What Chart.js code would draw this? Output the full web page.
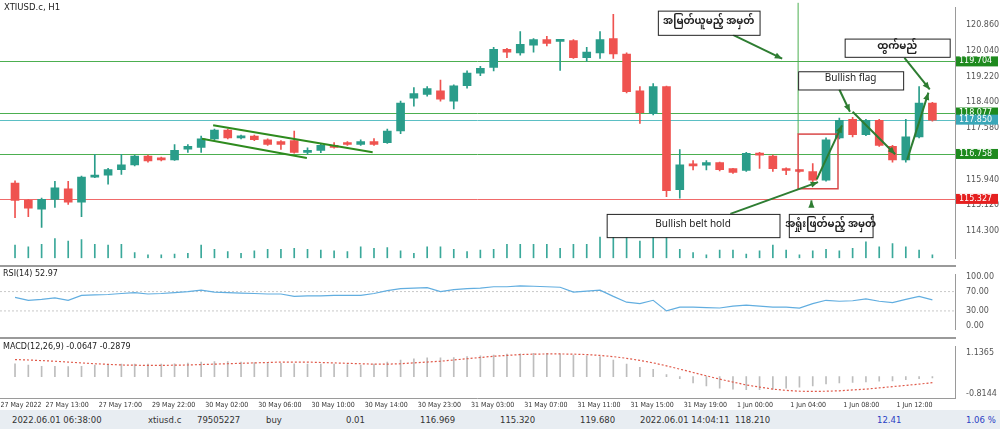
<!DOCTYPE html>
<html><head><meta charset="utf-8">
<script src="https://cdn.jsdelivr.net/npm/chart.js@4"></script>
<style>
body{margin:0;width:1000px;height:429px;overflow:hidden;background:#fff;font-family:"DejaVu Sans",sans-serif}
canvas{position:absolute;left:0}
#bar{position:absolute;left:0;top:410px;width:1000px;height:19px;background:#e8edf2;font-size:8.5px;color:#333}
#bar span{position:absolute;top:5px}
.sep{position:absolute;left:0;width:956px;height:2px;background:#9a9a9a}
</style></head><body>
<canvas id="main" style="top:0"></canvas>
<canvas id="rsi" style="top:267px"></canvas>
<canvas id="macd" style="top:339px"></canvas>
<div class="sep" style="top:265px"></div>
<div class="sep" style="top:337px"></div>
<div id="bar"></div>
<script>
//ローソク足データ（H1）
let opens  = [115.83,115.28,115.00,115.31,115.65,115.22,116.02,116.08,116.26,116.41,116.69,116.63,116.57,116.91,116.97,117.24,117.52,117.27,117.33,117.21,117.15,117.18,116.81,116.87,117.03,117.12,117.06,117.15,117.12,117.49,118.53,118.65,118.77,118.44,118.93,119.33,119.51,120.09,119.97,120.22,120.40,120.34,120.37,119.82,119.97,120.43,119.94,118.77,118.04,118.90,115.62,116.41,116.40,116.48,116.29,116.23,116.78,116.69,116.29,116.23,116.20,115.92,117.27,117.86,117.37,117.83,117.00,116.57,117.30,118.38];
let highs  = [115.90,115.31,115.35,115.89,115.89,116.05,116.75,116.30,116.75,116.72,116.72,116.66,117.06,117.06,117.33,117.55,117.55,117.36,117.36,117.24,117.18,117.49,116.95,117.10,117.12,117.15,117.21,117.25,117.55,118.44,118.87,118.90,119.11,118.96,119.40,119.55,120.15,120.12,120.65,120.43,120.50,120.40,120.40,120.15,120.65,121.20,119.98,118.90,119.00,118.92,116.90,116.55,116.55,116.50,116.30,116.81,116.81,116.72,116.32,116.25,116.45,117.27,117.90,117.92,117.86,117.86,117.03,117.86,118.90,118.40];
let lows   = [114.73,114.76,114.42,115.06,115.15,114.76,116.00,115.80,116.11,116.38,116.50,116.54,116.55,116.81,116.81,117.21,117.24,117.24,117.18,117.03,116.90,116.78,116.75,116.80,116.94,117.03,117.03,117.03,117.09,117.40,118.28,118.60,118.44,118.19,118.85,119.25,119.40,119.82,119.90,120.00,120.20,119.42,119.80,119.70,119.80,119.80,118.70,117.73,118.00,115.40,115.35,116.25,116.25,116.22,116.14,116.20,116.30,116.20,116.10,116.18,115.85,115.89,117.24,117.30,117.34,117.00,116.50,116.50,117.27,117.80];
let closes = [115.28,115.03,115.31,115.68,115.22,116.02,116.08,116.26,116.41,116.69,116.54,116.57,116.87,117.00,117.24,117.52,117.27,117.33,117.21,117.06,117.06,116.81,116.87,117.03,116.97,117.06,117.15,117.06,117.49,118.38,118.68,118.84,118.50,118.93,119.33,119.48,120.09,120.00,120.25,120.40,120.28,120.37,119.82,120.00,120.40,119.94,118.74,118.07,118.90,115.59,116.41,116.38,116.48,116.26,116.17,116.78,116.72,116.29,116.23,116.20,115.92,117.21,117.83,117.37,117.83,117.03,116.57,117.30,118.38,117.83];
let volumes = [40,35,43,60,53,57,43,40,43,17,10,10,13,15,40,27,20,15,23,27,27,30,27,25,23,20,35,30,33,23,15,35,35,27,20,25,27,43,43,43,43,30,43,43,65,65,65,53,65,65,27,17,10,25,25,13,23,40,25,10,23,27,23,30,50,35,45,35,25,10];
let rsiValues = [58,52,54,57,52,62,63,64,66,68,65,66,68,70,73,69,68,67,66,65,65,60,61,61,62,62,62,66,72,76,77,78,70,74,76,77,80,80,82,81,80,79,69,71,73,60,48,45,52,30,38,38,37,36,40,42,40,38,38,36,45,52,50,51,55,50,47,54,60,53];
let macdValues = [0.62,0.55,0.5,0.5,0.48,0.5,0.55,0.58,0.6,0.6,0.6,0.6,0.62,0.65,0.7,0.72,0.72,0.7,0.68,0.66,0.64,0.62,0.6,0.6,0.6,0.58,0.56,0.6,0.7,0.8,0.86,0.9,0.9,0.92,0.96,1.0,1.04,1.08,1.1,1.12,1.12,1.1,1.04,1.0,0.96,0.8,0.6,0.45,0.35,0.1,-0.1,-0.3,-0.45,-0.55,-0.6,-0.62,-0.62,-0.6,-0.55,-0.5,-0.45,-0.35,-0.3,-0.28,-0.25,-0.22,-0.2,-0.15,-0.1,-0.0647];
let signalValues = [0.82,0.8,0.77,0.74,0.7,0.66,0.62,0.59,0.56,0.55,0.54,0.54,0.55,0.56,0.58,0.6,0.62,0.64,0.66,0.68,0.7,0.7,0.7,0.68,0.66,0.64,0.62,0.6,0.6,0.62,0.66,0.7,0.74,0.8,0.86,0.92,0.98,1.02,1.06,1.08,1.09,1.09,1.08,1.06,1.02,0.96,0.88,0.78,0.66,0.52,0.36,0.2,0.04,-0.12,-0.26,-0.4,-0.5,-0.6,-0.66,-0.7,-0.71,-0.7,-0.68,-0.64,-0.6,-0.54,-0.48,-0.42,-0.36,-0.2879];

let priceTicks = [120.860,120.040,119.220,118.400,117.580,115.940,115.120,114.300];
let rsiTicks = [100,70,30,0];
let macdTicks = [1.1365,-0.8144];
let timeLabels = ['27 May 2022','27 May 13:00','27 May 17:00','29 May 22:00','30 May 02:00','30 May 06:00','30 May 10:00','30 May 14:00','30 May 23:00','31 May 03:00','31 May 07:00','31 May 11:00','31 May 15:00','31 May 19:00','1 Jun 00:00','1 Jun 04:00','1 Jun 08:00','1 Jun 12:00'];
let timeIdx = [-1.1,2.3,6.3,10.3,14.3,18.3,22.3,26.3,30.3,34.3,38.3,42.3,46.3,50.3,54.3,58.3,62.3,66.3];

let levelValues = [119.704,118.077,117.850,116.758,115.327];
let levelColors = ['#4caf50','#4caf50','#5bbfc4','#4caf50','#f06a6a'];
let levelTags = ['#1e8a1e','#1e8a1e','#3aa7b8','#1e8a1e','#e52020'];

let bottomTexts = [['2022.06.01 06:38:00',12],['xtiusd.c',148],['79505227',197],['buy',266],['0.01',346],['116.969',420],['115.320',500],['119.680',580],['2022.06.01 14:04:11',640],['118.210',735],['12.41',877],['1.06 %',966]];

//注釈（ローソク足インデックス, 価格）
let boxes = [
  {x1:48.35,x2:56.0,y1:121.32,y2:120.55,text:'အမြတ်ယူမည့် အမှတ်',bold:true},
  {x1:62.4,x2:70.3,y1:120.43,y2:119.85,text:'ထွက်မည်',bold:true},
  {x1:58.9,x2:66.8,y1:119.39,y2:118.81,text:'Bullish flag'},
  {x1:44.5,x2:57.5,y1:114.85,y2:114.11,text:'Bullish belt hold'},
  {x1:58.2,x2:64.5,y1:114.85,y2:114.11,text:'အရှုံးဖြတ်မည့် အမှတ်',bold:true}
];
let arrows = [[54.0,120.55,57.7,119.79],[66.9,119.82,68.8,118.81],[62.0,118.81,62.8,118.10],[63.0,118.10,66.2,116.75],[53.8,114.85,60.4,115.86],[59.9,115.07,59.9,115.28],[60.3,115.95,62.2,117.67],[67.1,116.57,68.7,118.71]];
let flagLines = [[14.9,117.67,26.9,116.81],[14.06,117.24,21.95,116.63]];

const GREEN = '#2a9d8a', RED = '#ef5350';
const XMIN = -1.13, XMAX = 70.7;

function setup(id, h) {
  let c = document.getElementById(id);
  c.width = 1000; c.height = h;
  c.style.width = '1000px'; c.style.height = h + 'px';
  return c;
}
function rightAxis(min, max, ticks, fmt) {
  return {
    position: 'right', min: min, max: max,
    grid: {display: false, drawTicks: true},
    border: {color: '#9a9a9a'},
    afterFit: s => { s.width = 45; },
    afterBuildTicks: s => { s.ticks = ticks.map(v => ({value: v})); },
    ticks: {color: '#555', font: {size: 8, family: 'DejaVu Sans'}, padding: 3, callback: fmt, autoSkip: false}
  };
}
let xAxis = {type: 'linear', min: XMIN, max: XMAX, display: false, offset: false};

function drawArrow(ctx, x1, y1, x2, y2) {
  ctx.beginPath(); ctx.moveTo(x1, y1); ctx.lineTo(x2, y2); ctx.stroke();
  let a = Math.atan2(y2 - y1, x2 - x1);
  ctx.beginPath();
  ctx.moveTo(x2, y2);
  ctx.lineTo(x2 - 8 * Math.cos(a - 0.4), y2 - 8 * Math.sin(a - 0.4));
  ctx.lineTo(x2 - 8 * Math.cos(a + 0.4), y2 - 8 * Math.sin(a + 0.4));
  ctx.closePath(); ctx.fill();
}

//メインチャート
let mainPlugin = {
  id: 'mainDraw',
  beforeDatasetsDraw(chart) {
    let ctx = chart.ctx, xs = chart.scales.x, ys = chart.scales.y, a = chart.chartArea;
    ctx.save();
    levelValues.forEach((v, i) => {
      let y = Math.round(ys.getPixelForValue(v)) + 0.5;
      ctx.strokeStyle = levelColors[i]; ctx.lineWidth = 1;
      ctx.beginPath(); ctx.moveTo(a.left, y); ctx.lineTo(a.right, y); ctx.stroke();
    });
    let vx = xs.getPixelForValue(58.9);
    ctx.strokeStyle = '#4caf50';
    ctx.beginPath(); ctx.moveTo(vx, a.top - 5); ctx.lineTo(vx, ys.getPixelForValue(117.39)); ctx.stroke();
    ctx.restore();
  },
  afterDatasetsDraw(chart) {
    let ctx = chart.ctx, xs = chart.scales.x, ys = chart.scales.y, a = chart.chartArea;
    let X = v => xs.getPixelForValue(v), Y = v => ys.getPixelForValue(v);
    ctx.save();
    ctx.strokeStyle = '#2e8b1e'; ctx.lineWidth = 2;
    flagLines.forEach(l => { ctx.beginPath(); ctx.moveTo(X(l[0]), Y(l[1])); ctx.lineTo(X(l[2]), Y(l[3])); ctx.stroke(); });
    ctx.strokeStyle = '#d94848'; ctx.lineWidth = 1.5;
    ctx.strokeRect(X(58.9), Y(117.39), X(61.9) - X(58.9), Y(115.65) - Y(117.39));
    ctx.strokeStyle = '#2e7d32'; ctx.fillStyle = '#2e7d32'; ctx.lineWidth = 2;
    arrows.forEach(l => drawArrow(ctx, X(l[0]), Y(l[1]), X(l[2]), Y(l[3])));
    boxes.forEach(b => {
      let x1 = X(b.x1), x2 = X(b.x2), y1 = Y(b.y1), y2 = Y(b.y2);
      ctx.fillStyle = '#fff'; ctx.fillRect(x1, y1, x2 - x1, y2 - y1);
      ctx.strokeStyle = '#222'; ctx.lineWidth = 1; ctx.strokeRect(x1 + 0.5, y1 + 0.5, x2 - x1, y2 - y1);
      ctx.fillStyle = '#222'; ctx.textAlign = 'center'; ctx.textBaseline = 'middle';
      ctx.font = (b.bold ? 'bold 10px ' : '10px ') + '"Noto Sans Myanmar","Noto Sans","DejaVu Sans",sans-serif';
      ctx.fillText(b.text, (x1 + x2) / 2, (y1 + y2) / 2);
    });
    //価格タグ
    ctx.font = '8px "DejaVu Sans"'; ctx.textAlign = 'left'; ctx.textBaseline = 'middle';
    levelValues.forEach((v, i) => {
      let y = Y(v);
      ctx.fillStyle = levelTags[i]; ctx.fillRect(a.right + 1, y - 5, 42, 10);
      ctx.fillStyle = '#fff'; ctx.fillText(v.toFixed(3), a.right + 4, y);
    });
    ctx.fillStyle = '#222'; ctx.font = '8.5px "DejaVu Sans"';
    ctx.fillText('XTIUSD.c, H1', 4, 8);
    ctx.restore();
  }
};

let idx = opens.map((v, i) => i);
new Chart(setup('main', 266), {
  type: 'bar',
  data: {
    datasets: [
      {data: idx.map(i => ({x: i, y: [lows[i], highs[i]]})), yAxisID: 'y', grouped: false, barThickness: 1,
       backgroundColor: idx.map(i => closes[i] >= opens[i] ? GREEN : RED)},
      {data: idx.map(i => ({x: i, y: [opens[i], closes[i]]})), yAxisID: 'y', grouped: false, barThickness: 8, minBarLength: 2,
       backgroundColor: idx.map(i => closes[i] >= opens[i] ? GREEN : RED)},
      {data: idx.map(i => ({x: i, y: volumes[i]})), yAxisID: 'vol', grouped: false, barThickness: 1, backgroundColor: '#3aa89a'}
    ]
  },
  options: {
    animation: false, responsive: false,
    layout: {padding: {top: 5, bottom: 0}},
    plugins: {legend: {display: false}, tooltip: {enabled: false}},
    scales: {
      x: xAxis,
      y: rightAxis(113.44, 121.41, priceTicks, v => v.toFixed(3)),
      vol: {display: false, min: 0, max: 770}
    }
  },
  plugins: [mainPlugin]
});

//RSI
new Chart(setup('rsi', 70), {
  type: 'line',
  data: {datasets: [{data: idx.map(i => ({x: i, y: rsiValues[i]})), borderColor: '#62aee0', borderWidth: 1.2, pointRadius: 0, tension: 0}]},
  options: {
    animation: false, responsive: false,
    plugins: {legend: {display: false}, tooltip: {enabled: false}},
    scales: {x: xAxis, y: rightAxis(-7.8, 104.7, rsiTicks, v => v.toFixed(2))}
  },
  plugins: [{
    id: 'rsiLvl',
    beforeDatasetsDraw(chart) {
      let ctx = chart.ctx, ys = chart.scales.y, a = chart.chartArea;
      ctx.save(); ctx.strokeStyle = '#c8c8c8'; ctx.setLineDash([2, 2]);
      [70, 30].forEach(v => { let y = ys.getPixelForValue(v); ctx.beginPath(); ctx.moveTo(a.left, y); ctx.lineTo(a.right, y); ctx.stroke(); });
      ctx.restore();
    },
    afterDatasetsDraw(chart) {
      let ctx = chart.ctx; ctx.save(); ctx.fillStyle = '#222'; ctx.font = '8px "DejaVu Sans"';
      ctx.textBaseline = 'middle'; ctx.fillText('RSI(14) 52.97', 3, 7); ctx.restore();
    }
  }]
});

//MACD
new Chart(setup('macd', 71), {
  type: 'bar',
  data: {datasets: [
    {type: 'line', data: idx.map(i => ({x: i, y: signalValues[i]})), borderColor: '#e05a4a', borderWidth: 1.2, borderDash: [2, 2], pointRadius: 0},
    {data: idx.map(i => ({x: i, y: macdValues[i]})), barThickness: 1, backgroundColor: '#bdbdbd'}
  ]},
  options: {
    animation: false, responsive: false,
    layout: {padding: {top: 1, bottom: 12}},
    plugins: {legend: {display: false}, tooltip: {enabled: false}},
    scales: {x: xAxis, y: rightAxis(-1.026, 1.433, macdTicks, v => v.toFixed(4))}
  },
  plugins: [{
    id: 'macdTxt',
    afterDraw(chart) {
      let ctx = chart.ctx, xs = chart.scales.x, a = chart.chartArea;
      ctx.save(); ctx.fillStyle = '#222'; ctx.font = '8px "DejaVu Sans"'; ctx.textBaseline = 'middle';
      ctx.fillText('MACD(12,26,9) -0.0647 -0.2879', 3, 8);
      ctx.strokeStyle = '#9a9a9a'; ctx.beginPath(); ctx.moveTo(0, a.bottom + 0.5); ctx.lineTo(a.right, a.bottom + 0.5); ctx.stroke();
      ctx.fillStyle = '#333'; ctx.font = '7px "DejaVu Sans Condensed","Liberation Sans Narrow",sans-serif';
      timeLabels.forEach((t, i) => {
        let x = Math.max(0, xs.getPixelForValue(timeIdx[i]));
        ctx.fillText(t, x, a.bottom + 7);
      });
      ctx.restore();
    }
  }]
});

let bar = document.getElementById('bar');
bottomTexts.forEach((t, i) => {
  let s = document.createElement('span');
  s.textContent = t[0]; s.style.left = t[1] + 'px';
  if (i >= 10) s.style.color = '#2a3fc4';
  bar.appendChild(s);
});
</script>
</body></html>
